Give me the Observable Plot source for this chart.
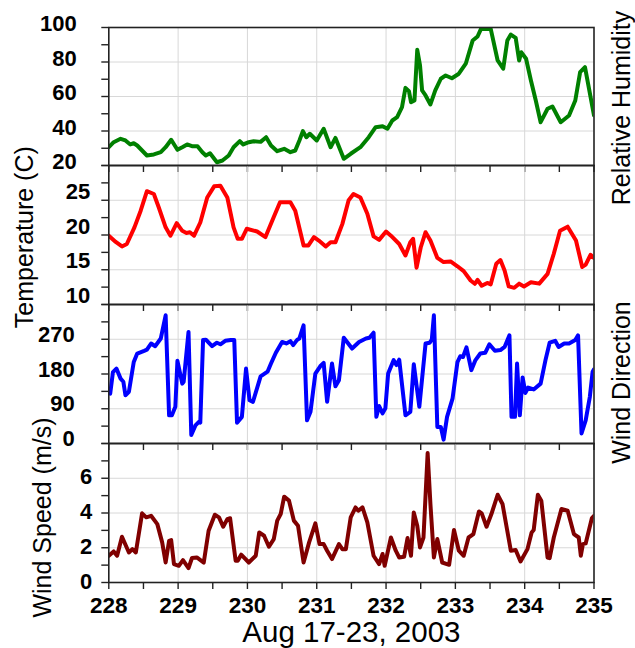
<!DOCTYPE html>
<html><head><meta charset="utf-8">
<script src="https://cdn.jsdelivr.net/npm/d3@7"></script>
<script src="https://cdn.jsdelivr.net/npm/@observablehq/plot@0.6"></script>
<style>
body{margin:0;background:#fff;}
#chart{position:relative;width:635px;height:648px;font-family:"Liberation Sans",Arial,sans-serif;}
#chart svg{position:absolute;left:0;top:0;overflow:visible;}
</style></head><body><div id="chart"></div>
<script>
// ---- Data (day of year 2003) ----
const rhDay = [228.00,228.07,228.17,228.24,228.31,228.36,228.41,228.55,228.65,228.75,228.82,228.90,228.99,229.06,229.13,229.20,229.28,229.35,229.40,229.46,229.56,229.64,229.73,229.80,229.89,229.94,230.02,230.09,230.19,230.27,230.34,230.43,230.53,230.62,230.69,230.75,230.80,230.85,230.90,231.00,231.10,231.20,231.27,231.39,231.49,231.63,231.75,231.85,231.95,232.02,232.09,232.16,232.23,232.28,232.33,232.36,232.41,232.45,232.49,232.52,232.57,232.64,232.71,232.79,232.86,232.95,233.05,233.15,233.25,233.32,233.37,233.51,233.61,233.69,233.75,233.80,233.87,233.92,233.95,234.02,234.09,234.16,234.23,234.33,234.40,234.52,234.64,234.73,234.80,234.87,235.00];
const rhVal = [30.6,33.5,35.5,34.5,32.2,32.9,31.6,25.8,26.4,27.7,30.6,34.9,29.1,30.6,32.2,31.2,31.2,27.7,25.8,27.1,21.9,22.9,25.8,30.6,34.1,32.2,33.5,34.1,33.7,36.4,31.6,28.3,29.7,27.7,28.7,34.5,39.9,36.4,38.4,34.5,41.3,30.6,36.0,23.9,26.8,30.6,36.4,42.2,42.8,41.3,46.1,48.0,53.8,65.0,63.1,56.7,57.7,87.1,78.0,63.5,60.6,55.4,63.5,70.3,72.2,70.6,73.2,79.0,92.5,94.8,99.2,99.2,80.9,76.1,92.5,95.9,94.0,80.9,85.7,81.9,69.3,57.7,45.1,52.9,54.2,45.1,49.0,57.7,74.1,77.0,49.0];

const tempDay = [228.00,228.10,228.19,228.26,228.37,228.46,228.55,228.65,228.72,228.82,228.89,228.98,229.06,229.12,229.17,229.23,229.32,229.42,229.52,229.61,229.71,229.80,229.86,229.92,229.99,230.14,230.26,230.38,230.47,230.62,230.69,230.81,230.88,230.96,231.03,231.13,231.20,231.27,231.37,231.46,231.53,231.63,231.73,231.82,231.90,232.00,232.07,232.19,232.28,232.35,232.39,232.44,232.50,232.57,232.64,232.74,232.83,232.93,233.03,233.12,233.22,233.28,233.32,233.38,233.46,233.51,233.59,233.65,233.71,233.77,233.85,233.92,233.99,234.09,234.21,234.33,234.42,234.51,234.62,234.74,234.83,234.88,234.95,235.00];
const tempVal = [19.9,19.0,18.35,18.7,21.1,23.5,26.3,25.9,24.0,21.1,19.9,21.7,20.6,20.3,20.4,19.9,21.8,25.4,27.0,27.1,25.4,21.1,19.45,19.45,20.9,20.5,19.7,22.6,24.7,24.7,23.5,18.5,18.5,19.7,19.2,18.35,18.96,18.96,21.6,25.0,25.9,25.4,23.05,19.8,19.3,20.5,19.9,18.7,17.05,18.96,19.45,15.3,18.2,20.4,19.2,16.7,16.1,16.2,15.5,14.8,13.45,12.98,13.55,12.7,13.1,12.9,15.85,16.4,14.9,12.6,12.4,13.0,12.6,13.2,13.0,14.4,17.3,20.6,21.2,19.2,15.4,15.75,17.15,16.7];

const dirDay = [228.02,228.06,228.11,228.17,228.21,228.24,228.29,228.36,228.41,228.51,228.55,228.61,228.67,228.75,228.82,228.87,228.91,228.96,228.99,229.06,229.08,229.15,229.19,229.25,229.30,229.32,229.36,229.40,229.49,229.56,229.61,229.68,229.76,229.81,229.85,229.92,229.98,230.03,230.08,230.19,230.29,230.34,230.41,230.50,230.56,230.62,230.66,230.72,230.75,230.81,230.86,230.91,230.98,231.05,231.10,231.15,231.22,231.27,231.32,231.39,231.51,231.61,231.71,231.76,231.82,231.86,231.90,231.95,231.99,232.03,232.11,232.15,232.19,232.28,232.35,232.40,232.48,232.57,232.63,232.66,232.69,232.74,232.79,232.83,232.88,232.96,233.03,233.07,233.11,233.16,233.23,233.29,233.36,233.43,233.49,233.57,233.65,233.71,233.78,233.81,233.86,233.89,233.93,233.97,234.01,234.05,234.13,234.23,234.30,234.36,234.44,234.49,234.57,234.64,234.73,234.77,234.82,234.88,234.94,234.98,235.00];
const dirVal = [129,185,194,168,160,125,134,211,233,240,243,259,252,272,332,73,73,95,214,155,160,289,22,47,56,54,268,269,252,261,257,266,268,268,54,69,194,112,108,174,186,207,235,263,259,265,255,269,272,306,60,82,181,200,209,108,207,148,164,274,246,263,272,274,287,69,97,78,91,181,216,203,217,73,82,205,95,259,261,269,332,43,43,10,69,117,211,226,224,249,190,216,233,235,257,240,242,250,280,69,69,207,73,171,131,145,140,155,216,261,266,250,259,259,268,280,26,60,121,186,192];

const spdDay = [228.00,228.07,228.12,228.19,228.29,228.34,228.39,228.48,228.54,228.61,228.70,228.77,228.82,228.87,228.90,228.94,229.01,229.07,229.15,229.20,229.27,229.37,229.44,229.53,229.59,229.65,229.71,229.75,229.83,229.86,229.91,230.02,230.12,230.17,230.24,230.31,230.38,230.43,230.48,230.53,230.60,230.67,230.73,230.81,230.89,230.98,231.04,231.10,231.15,231.22,231.32,231.37,231.42,231.49,231.56,231.60,231.66,231.73,231.82,231.90,231.95,231.98,232.07,232.14,232.19,232.26,232.31,232.36,232.40,232.45,232.49,232.54,232.60,232.64,232.69,232.74,232.81,232.91,232.98,233.05,233.12,233.19,233.26,233.34,233.38,233.45,233.52,233.61,233.68,233.80,233.87,233.94,234.04,234.10,234.13,234.19,234.24,234.33,234.36,234.42,234.53,234.62,234.71,234.78,234.81,234.84,234.88,234.97,235.00];
const spdVal = [1.54,1.79,1.54,2.63,1.73,1.92,1.73,3.98,3.75,3.84,3.36,2.31,1.15,2.40,2.44,1.06,0.96,1.29,0.83,1.41,1.44,1.15,2.98,3.90,3.75,3.21,3.65,3.70,1.25,1.25,1.60,1.15,1.54,2.88,2.69,2.06,2.50,3.56,3.94,4.94,4.71,3.56,3.27,1.15,2.31,3.40,2.21,2.21,1.83,1.35,2.21,1.92,1.92,3.75,4.32,4.13,4.32,3.46,1.54,1.06,1.64,0.96,2.59,1.83,1.44,1.48,2.56,1.54,4.03,3.27,2.02,2.59,7.45,4.52,1.44,2.50,1.15,1.02,3.02,1.83,1.54,2.59,2.79,4.09,3.98,3.21,3.94,5.05,4.52,1.83,1.87,1.21,1.92,2.88,3.02,5.05,4.71,1.44,1.40,2.59,4.23,4.13,2.79,2.59,1.54,2.21,2.25,3.71,3.84];

// tick values
const dayLabels = [228,229,230,231,232,233,234,235];
const gridDays = [229,230,231,232,233,234];
const halfDays = [228,228.5,229,229.5,230,230.5,231,231.5,232,232.5,233,233.5,234,234.5,235];
const rhTicks = [20,40,60,80,100];
const rhMinor = [20,30,40,50,60,70,80,90,100];
const tempTicks = [10,15,20,25];
const tempMinor = [10,12.5,15,17.5,20,22.5,25,27.5,30];
const dirTicks = [0,90,180,270];
const dirMinor = [0,45,90,135,180,225,270,315,360];
const spdTicks = [0,2,4,6];
const spdMinor = [0,1,2,3,4,5,6,7,8];

const zip = (d, v) => d.map((day, i) => ({day, value: v[i]}));

const W = 635, H = 648;
const panels = [
  {data: zip(rhDay, rhVal), color: "#008000", domain: [20,100], ticks: rhTicks, minor: rhMinor,
   top: 27, bottom: 165, labelDy: -3.5, labelPad: 32,
   title: "Relative Humidity", side: "right", tdx: 27.5, tdy: 11.5},
  {data: zip(tempDay, tempVal), color: "#ff0000", domain: [10,30], ticks: tempTicks, minor: tempMinor,
   top: 165, bottom: 304, labelDy: -8.5, labelPad: 18.5,
   title: "Temperature (C)", side: "left", tdx: -84.3, tdy: 2.2},
  {data: zip(dirDay, dirVal), color: "#0000ff", domain: [0,360], ticks: dirTicks, minor: dirMinor,
   top: 304, bottom: 443, labelDy: -4.5, labelPad: 34,
   title: "Wind Direction", side: "right", tdx: 27.5, tdy: 8.5},
  {data: zip(spdDay, spdVal), color: "#800000", domain: [0,8], ticks: spdTicks, minor: spdMinor,
   top: 443, bottom: 582, labelDy: -1, labelPad: 16.5,
   title: "Wind Speed (m/s)", side: "left", tdx: -66.3, tdy: 4.5, xAxis: true}
];

const container = document.getElementById("chart");
for (const p of panels) {
  const marks = [
    Plot.gridX(gridDays, {stroke: "#d8d8d8", strokeOpacity: 1, strokeWidth: 1}),
    Plot.gridY(p.ticks, {stroke: "#d8d8d8", strokeOpacity: 1, strokeWidth: 1}),
    Plot.line(p.data, {x: "day", y: "value", stroke: p.color, strokeWidth: 4,
      strokeLinejoin: "round", strokeLinecap: "round", clip: true}),
    Plot.axisY(p.minor, {tickSize: 7, tickFormat: () => "", stroke: "#222", strokeWidth: 1.4, label: null}),
    Plot.axisY(p.ticks, {tickSize: 0, tickPadding: p.labelPad, dy: p.labelDy, fontSize: 22,
      fontWeight: "bold", fill: "#000", label: null}),
    Plot.axisX(halfDays, {tickSize: 7, tickFormat: () => "", stroke: "#222", strokeWidth: 1.4, label: null}),
    Plot.frame({stroke: "#222", strokeWidth: 1.6}),
    Plot.text([p.title], {frameAnchor: p.side, textAnchor: "middle", lineAnchor: "middle",
      rotate: -90, dx: p.tdx, dy: p.tdy, fontSize: 25, fill: "#000"})
  ];
  if (p.xAxis) {
    marks.push(Plot.axisX(dayLabels, {tickSize: 0, tickPadding: 15, fontSize: 22.5, fontWeight: "bold",
      fill: "#000", label: null}));
    marks.push(Plot.text(["Aug 17-23, 2003"], {frameAnchor: "bottom", dy: 59.5, fontSize: 29.5, fill: "#000"}));
  }
  const svg = Plot.plot({
    width: W, height: H,
    marginLeft: 108.3, marginRight: 41.5,
    marginTop: p.top, marginBottom: H - p.bottom,
    x: {domain: [228, 235], axis: null, label: null},
    y: {domain: p.domain, axis: null, label: null},
    style: {background: "transparent", fontFamily: "'Liberation Sans', Arial, sans-serif", overflow: "visible"},
    marks
  });
  container.appendChild(svg);
}
</script>
</body></html>
